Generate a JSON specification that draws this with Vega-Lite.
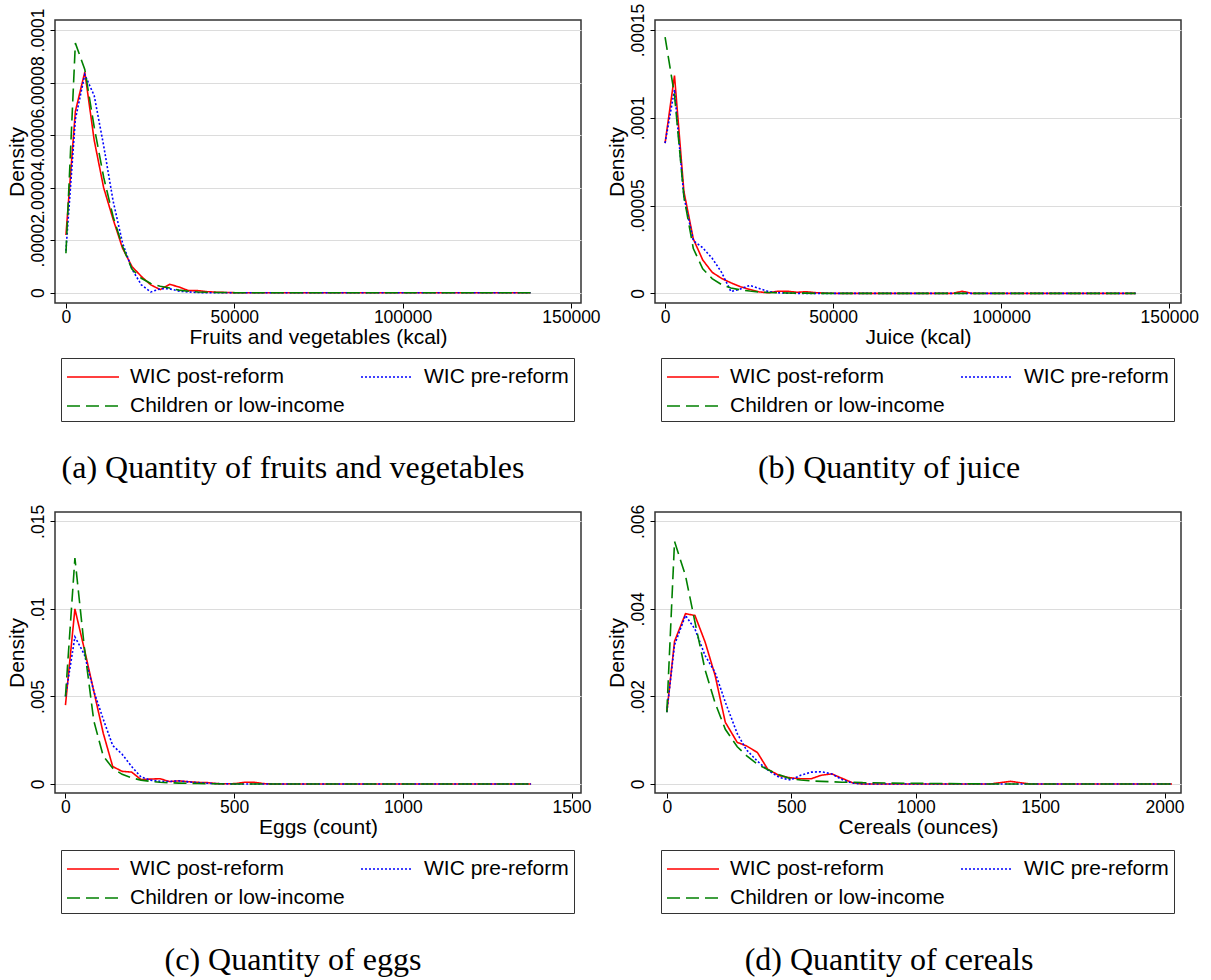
{
  "$schema": "https://vega.github.io/schema/vega-lite/v6.json",
  "background": "white",
  "padding": {"left": 5, "top": 2, "right": 0, "bottom": 0},
  "datasets": {
    "fruitveg": [
      {"x": 0, "WIC post-reform": 2.2e-5, "WIC pre-reform": 1.6e-5, "Children or low-income": 1.5e-5},
      {"x": 2800, "WIC post-reform": 6.9e-5, "WIC pre-reform": 6.6e-5, "Children or low-income": 9.5e-5},
      {"x": 5600, "WIC post-reform": 8.4e-5, "WIC pre-reform": 8.3e-5, "Children or low-income": 8.5e-5},
      {"x": 8400, "WIC post-reform": 5.8e-5, "WIC pre-reform": 7.5e-5, "Children or low-income": 6.3e-5},
      {"x": 11200, "WIC post-reform": 4.0e-5, "WIC pre-reform": 5.6e-5, "Children or low-income": 4.4e-5},
      {"x": 14000, "WIC post-reform": 2.8e-5, "WIC pre-reform": 3.5e-5, "Children or low-income": 2.9e-5},
      {"x": 16800, "WIC post-reform": 1.7e-5, "WIC pre-reform": 1.9e-5, "Children or low-income": 1.77e-5},
      {"x": 19600, "WIC post-reform": 1.0e-5, "WIC pre-reform": 9e-6, "Children or low-income": 9e-6},
      {"x": 22400, "WIC post-reform": 6.2e-6, "WIC pre-reform": 3e-6, "Children or low-income": 5.5e-6},
      {"x": 25200, "WIC post-reform": 3e-6, "WIC pre-reform": 3e-7, "Children or low-income": 3.5e-6},
      {"x": 28000, "WIC post-reform": 1.2e-6, "WIC pre-reform": 1.5e-6, "Children or low-income": 2.5e-6},
      {"x": 30800, "WIC post-reform": 3.2e-6, "WIC pre-reform": 1.5e-6, "Children or low-income": 1.8e-6},
      {"x": 33600, "WIC post-reform": 2.2e-6, "WIC pre-reform": 6e-7, "Children or low-income": 1e-6},
      {"x": 36400, "WIC post-reform": 8e-7, "WIC pre-reform": 3e-7, "Children or low-income": 6e-7},
      {"x": 39200, "WIC post-reform": 8e-7, "WIC pre-reform": 1e-7, "Children or low-income": 3e-7},
      {"x": 42000, "WIC post-reform": 4e-7, "WIC pre-reform": 0, "Children or low-income": 2e-7},
      {"x": 44800, "WIC post-reform": 2e-7, "WIC pre-reform": 0, "Children or low-income": 1e-7},
      {"x": 47600, "WIC post-reform": 1e-7, "WIC pre-reform": 0, "Children or low-income": 1e-7},
      {"x": 50400, "WIC post-reform": 0, "WIC pre-reform": 0, "Children or low-income": 0},
      {"x": 70000, "WIC post-reform": 0, "WIC pre-reform": 0, "Children or low-income": 0},
      {"x": 100000, "WIC post-reform": 0, "WIC pre-reform": 0, "Children or low-income": 0},
      {"x": 138000, "WIC post-reform": 0, "WIC pre-reform": 0, "Children or low-income": 0}
    ],
    "juice": [
      {"x": 0, "WIC post-reform": 8.56e-5, "WIC pre-reform": 8.56e-5, "Children or low-income": 1.46e-4},
      {"x": 2800, "WIC post-reform": 1.24e-4, "WIC pre-reform": 1.16e-4, "Children or low-income": 1.13e-4},
      {"x": 5600, "WIC post-reform": 5.8e-5, "WIC pre-reform": 5.5e-5, "Children or low-income": 5.5e-5},
      {"x": 8400, "WIC post-reform": 3.1e-5, "WIC pre-reform": 3.0e-5, "Children or low-income": 2.55e-5},
      {"x": 11200, "WIC post-reform": 1.9e-5, "WIC pre-reform": 2.6e-5, "Children or low-income": 1.4e-5},
      {"x": 14000, "WIC post-reform": 1.2e-5, "WIC pre-reform": 2.0e-5, "Children or low-income": 8.4e-6},
      {"x": 16800, "WIC post-reform": 8.5e-6, "WIC pre-reform": 1.2e-5, "Children or low-income": 5e-6},
      {"x": 19600, "WIC post-reform": 6e-6, "WIC pre-reform": 1e-6, "Children or low-income": 3e-6},
      {"x": 22400, "WIC post-reform": 3.8e-6, "WIC pre-reform": 2.5e-6, "Children or low-income": 2e-6},
      {"x": 25200, "WIC post-reform": 2.2e-6, "WIC pre-reform": 4.5e-6, "Children or low-income": 1.3e-6},
      {"x": 28000, "WIC post-reform": 8e-7, "WIC pre-reform": 2.8e-6, "Children or low-income": 8e-7},
      {"x": 30800, "WIC post-reform": 3e-7, "WIC pre-reform": 1e-6, "Children or low-income": 5e-7},
      {"x": 33600, "WIC post-reform": 1.2e-6, "WIC pre-reform": 3e-7, "Children or low-income": 3e-7},
      {"x": 36400, "WIC post-reform": 1.2e-6, "WIC pre-reform": 1e-7, "Children or low-income": 2e-7},
      {"x": 39200, "WIC post-reform": 6e-7, "WIC pre-reform": 0, "Children or low-income": 1e-7},
      {"x": 42000, "WIC post-reform": 9e-7, "WIC pre-reform": 0, "Children or low-income": 1e-7},
      {"x": 44800, "WIC post-reform": 4e-7, "WIC pre-reform": 0, "Children or low-income": 0},
      {"x": 47600, "WIC post-reform": 1e-7, "WIC pre-reform": 0, "Children or low-income": 0},
      {"x": 50400, "WIC post-reform": 0, "WIC pre-reform": 0, "Children or low-income": 0},
      {"x": 85600, "WIC post-reform": 0, "WIC pre-reform": 0, "Children or low-income": 0},
      {"x": 88400, "WIC post-reform": 1.2e-6, "WIC pre-reform": 0, "Children or low-income": 0},
      {"x": 91200, "WIC post-reform": 0, "WIC pre-reform": 0, "Children or low-income": 0},
      {"x": 140000, "WIC post-reform": 0, "WIC pre-reform": 0, "Children or low-income": 0}
    ],
    "eggs": [
      {"x": 0, "WIC post-reform": 0.0045, "WIC pre-reform": 0.0050, "Children or low-income": 0.0050},
      {"x": 28, "WIC post-reform": 0.0100, "WIC pre-reform": 0.0084, "Children or low-income": 0.0129},
      {"x": 56, "WIC post-reform": 0.0077, "WIC pre-reform": 0.0074, "Children or low-income": 0.0078},
      {"x": 84, "WIC post-reform": 0.0053, "WIC pre-reform": 0.0053, "Children or low-income": 0.0036},
      {"x": 112, "WIC post-reform": 0.0029, "WIC pre-reform": 0.0037, "Children or low-income": 0.0016},
      {"x": 140, "WIC post-reform": 0.0010, "WIC pre-reform": 0.0022, "Children or low-income": 0.0009},
      {"x": 168, "WIC post-reform": 0.00072, "WIC pre-reform": 0.0017, "Children or low-income": 0.00055},
      {"x": 196, "WIC post-reform": 0.00068, "WIC pre-reform": 0.0010, "Children or low-income": 0.00035},
      {"x": 224, "WIC post-reform": 0.00025, "WIC pre-reform": 0.0004, "Children or low-income": 0.00022},
      {"x": 252, "WIC post-reform": 0.00028, "WIC pre-reform": 0.00022, "Children or low-income": 0.00015},
      {"x": 280, "WIC post-reform": 0.0003, "WIC pre-reform": 0.00015, "Children or low-income": 0.0001},
      {"x": 308, "WIC post-reform": 0.00014, "WIC pre-reform": 0.00014, "Children or low-income": 0.00007},
      {"x": 336, "WIC post-reform": 0.00018, "WIC pre-reform": 0.00018, "Children or low-income": 0.00005},
      {"x": 364, "WIC post-reform": 0.00013, "WIC pre-reform": 0.00012, "Children or low-income": 0.00004},
      {"x": 392, "WIC post-reform": 0.00009, "WIC pre-reform": 0.00008, "Children or low-income": 0.00003},
      {"x": 420, "WIC post-reform": 0.00008, "WIC pre-reform": 0.00004, "Children or low-income": 0.00002},
      {"x": 448, "WIC post-reform": 0.00002, "WIC pre-reform": 0.00002, "Children or low-income": 0.00001},
      {"x": 476, "WIC post-reform": 0.00001, "WIC pre-reform": 0.00001, "Children or low-income": 0},
      {"x": 504, "WIC post-reform": 0.00002, "WIC pre-reform": 0, "Children or low-income": 0},
      {"x": 532, "WIC post-reform": 0.0001, "WIC pre-reform": 0, "Children or low-income": 0},
      {"x": 560, "WIC post-reform": 0.00009, "WIC pre-reform": 0, "Children or low-income": 0},
      {"x": 588, "WIC post-reform": 0.00002, "WIC pre-reform": 0, "Children or low-income": 0},
      {"x": 616, "WIC post-reform": 0, "WIC pre-reform": 0, "Children or low-income": 0},
      {"x": 900, "WIC post-reform": 0, "WIC pre-reform": 0, "Children or low-income": 0},
      {"x": 1380, "WIC post-reform": 0, "WIC pre-reform": 0, "Children or low-income": 0}
    ],
    "cereals": [
      {"x": 0, "WIC post-reform": 0.00164, "WIC pre-reform": 0.00164, "Children or low-income": 0.00164},
      {"x": 31, "WIC post-reform": 0.00326, "WIC pre-reform": 0.00318, "Children or low-income": 0.00554},
      {"x": 75, "WIC post-reform": 0.00389, "WIC pre-reform": 0.00385, "Children or low-income": 0.00476},
      {"x": 113, "WIC post-reform": 0.00385, "WIC pre-reform": 0.00354, "Children or low-income": 0.0037},
      {"x": 154, "WIC post-reform": 0.00324, "WIC pre-reform": 0.00293, "Children or low-income": 0.0026},
      {"x": 194, "WIC post-reform": 0.00248, "WIC pre-reform": 0.00255, "Children or low-income": 0.00185},
      {"x": 235, "WIC post-reform": 0.00141, "WIC pre-reform": 0.00187, "Children or low-income": 0.00125},
      {"x": 283, "WIC post-reform": 0.00095, "WIC pre-reform": 0.00115, "Children or low-income": 0.00085},
      {"x": 320, "WIC post-reform": 0.00087, "WIC pre-reform": 0.00078, "Children or low-income": 0.00065},
      {"x": 364, "WIC post-reform": 0.00072, "WIC pre-reform": 0.00052, "Children or low-income": 0.00045},
      {"x": 405, "WIC post-reform": 0.00034, "WIC pre-reform": 0.00032, "Children or low-income": 0.00033},
      {"x": 452, "WIC post-reform": 0.00019, "WIC pre-reform": 0.00015, "Children or low-income": 0.00021},
      {"x": 497, "WIC post-reform": 0.00014, "WIC pre-reform": 0.00009, "Children or low-income": 0.00012},
      {"x": 538, "WIC post-reform": 0.00012, "WIC pre-reform": 0.0002, "Children or low-income": 0.00009},
      {"x": 580, "WIC post-reform": 0.00012, "WIC pre-reform": 0.00027, "Children or low-income": 0.00007},
      {"x": 621, "WIC post-reform": 0.0002, "WIC pre-reform": 0.00028, "Children or low-income": 0.00006},
      {"x": 663, "WIC post-reform": 0.00023, "WIC pre-reform": 0.00023, "Children or low-income": 0.00005},
      {"x": 704, "WIC post-reform": 0.00013, "WIC pre-reform": 0.0001, "Children or low-income": 0.00004},
      {"x": 745, "WIC post-reform": 0.00003, "WIC pre-reform": 0.00002, "Children or low-income": 0.00004},
      {"x": 787, "WIC post-reform": 0, "WIC pre-reform": 0, "Children or low-income": 0.00003},
      {"x": 900, "WIC post-reform": 0, "WIC pre-reform": 0, "Children or low-income": 0.00002},
      {"x": 1100, "WIC post-reform": 0, "WIC pre-reform": 0, "Children or low-income": 0.00001},
      {"x": 1300, "WIC post-reform": 0, "WIC pre-reform": 0, "Children or low-income": 0},
      {"x": 1340, "WIC post-reform": 0.00003, "WIC pre-reform": 0, "Children or low-income": 0},
      {"x": 1380, "WIC post-reform": 0.00006, "WIC pre-reform": 0, "Children or low-income": 0},
      {"x": 1420, "WIC post-reform": 0.00003, "WIC pre-reform": 0, "Children or low-income": 0},
      {"x": 1460, "WIC post-reform": 0, "WIC pre-reform": 0, "Children or low-income": 0},
      {"x": 1800, "WIC post-reform": 0, "WIC pre-reform": 0, "Children or low-income": 0},
      {"x": 2030, "WIC post-reform": 0, "WIC pre-reform": 0, "Children or low-income": 0}
    ]
  },
  "columns": 2,
  "spacing": {"row": 18, "column": 4},
  "concat": [
    {
      "width": 526,
      "height": 283,
      "title": {"text": "(a) Quantity of fruits and vegetables", "dx": -25},
      "data": {"name": "fruitveg"},
      "transform": [{"fold": ["WIC post-reform", "WIC pre-reform", "Children or low-income"], "as": ["group", "density"]}],
      "mark": {"type": "line", "strokeWidth": 1.6},
      "encoding": {
        "x": {"field": "x", "type": "quantitative", "scale": {"domain": [-3250, 153000], "nice": false, "zero": false},
              "axis": {"title": "Fruits and vegetables (kcal)", "values": [0, 50000, 100000, 150000], "format": "d"}},
        "y": {"field": "density", "type": "quantitative", "scale": {"domain": [-0.0000039, 0.0001038], "nice": false, "zero": false},
              "axis": {"title": "Density", "values": [0, 0.00002, 0.00004, 0.00006, 0.00008, 0.0001]}},
        "color": {"field": "group", "type": "nominal", "legend": {"title": null},
                  "scale": {"domain": ["WIC post-reform", "WIC pre-reform", "Children or low-income"], "range": ["#ff0000", "#0000ff", "#008000"]}},
        "strokeDash": {"field": "group", "type": "nominal", "legend": {"title": null},
                       "scale": {"domain": ["WIC post-reform", "WIC pre-reform", "Children or low-income"], "range": [[1, 0], [2, 2], [13, 6]]}}
      }
    },
    {
      "width": 526,
      "height": 283,
      "title": {"text": "(b) Quantity of juice", "dx": -29},
      "data": {"name": "juice"},
      "transform": [{"fold": ["WIC post-reform", "WIC pre-reform", "Children or low-income"], "as": ["group", "density"]}],
      "mark": {"type": "line", "strokeWidth": 1.6},
      "encoding": {
        "x": {"field": "x", "type": "quantitative", "scale": {"domain": [-3000, 153500], "nice": false, "zero": false},
              "axis": {"title": "Juice (kcal)", "values": [0, 50000, 100000, 150000], "format": "d"}},
        "y": {"field": "density", "type": "quantitative", "scale": {"domain": [-0.0000055, 0.0001557], "nice": false, "zero": false},
              "axis": {"title": "Density", "values": [0, 0.00005, 0.0001, 0.00015]}},
        "color": {"field": "group", "type": "nominal", "legend": {"title": null},
                  "scale": {"domain": ["WIC post-reform", "WIC pre-reform", "Children or low-income"], "range": ["#ff0000", "#0000ff", "#008000"]}},
        "strokeDash": {"field": "group", "type": "nominal", "legend": {"title": null},
                       "scale": {"domain": ["WIC post-reform", "WIC pre-reform", "Children or low-income"], "range": [[1, 0], [2, 2], [13, 6]]}}
      }
    },
    {
      "width": 526,
      "height": 281,
      "title": {"text": "(c) Quantity of eggs", "dx": -25},
      "data": {"name": "eggs"},
      "transform": [{"fold": ["WIC post-reform", "WIC pre-reform", "Children or low-income"], "as": ["group", "density"]}],
      "mark": {"type": "line", "strokeWidth": 1.6},
      "encoding": {
        "x": {"field": "x", "type": "quantitative", "scale": {"domain": [-31, 1528], "nice": false, "zero": false},
              "axis": {"title": "Eggs (count)", "values": [0, 500, 1000, 1500], "format": "d"}},
        "y": {"field": "density", "type": "quantitative", "scale": {"domain": [-0.000515, 0.015534], "nice": false, "zero": false},
              "axis": {"title": "Density", "values": [0, 0.005, 0.01, 0.015]}},
        "color": {"field": "group", "type": "nominal", "legend": {"title": null},
                  "scale": {"domain": ["WIC post-reform", "WIC pre-reform", "Children or low-income"], "range": ["#ff0000", "#0000ff", "#008000"]}},
        "strokeDash": {"field": "group", "type": "nominal", "legend": {"title": null},
                       "scale": {"domain": ["WIC post-reform", "WIC pre-reform", "Children or low-income"], "range": [[1, 0], [2, 2], [13, 6]]}}
      }
    },
    {
      "width": 526,
      "height": 281,
      "title": {"text": "(d) Quantity of cereals", "dx": -29},
      "data": {"name": "cereals"},
      "transform": [{"fold": ["WIC post-reform", "WIC pre-reform", "Children or low-income"], "as": ["group", "density"]}],
      "mark": {"type": "line", "strokeWidth": 1.6},
      "encoding": {
        "x": {"field": "x", "type": "quantitative", "scale": {"domain": [-47.5, 2066], "nice": false, "zero": false},
              "axis": {"title": "Cereals (ounces)", "values": [0, 500, 1000, 1500, 2000], "format": "d"}},
        "y": {"field": "density", "type": "quantitative", "scale": {"domain": [-0.000206, 0.0062135], "nice": false, "zero": false},
              "axis": {"title": "Density", "values": [0, 0.002, 0.004, 0.006]}},
        "color": {"field": "group", "type": "nominal", "legend": {"title": null},
                  "scale": {"domain": ["WIC post-reform", "WIC pre-reform", "Children or low-income"], "range": ["#ff0000", "#0000ff", "#008000"]}},
        "strokeDash": {"field": "group", "type": "nominal", "legend": {"title": null},
                       "scale": {"domain": ["WIC post-reform", "WIC pre-reform", "Children or low-income"], "range": [[1, 0], [2, 2], [13, 6]]}}
      }
    }
  ],
  "resolve": {"scale": {"color": "independent", "strokeDash": "independent", "x": "independent", "y": "independent"}},
  "config": {
    "font": "Liberation Sans",
    "view": {"stroke": "#333333", "strokeWidth": 1.5},
    "axis": {
      "labelFont": "Liberation Sans", "labelFontSize": 17.5, "labelColor": "#000000",
      "titleFont": "Liberation Sans", "titleFontSize": 21, "titleFontWeight": "normal", "titleColor": "#000000",
      "tickColor": "#000000", "tickSize": 5, "tickWidth": 1, "domain": false,
      "gridColor": "#dcdcdc", "gridWidth": 1.2
    },
    "axisX": {"grid": false, "labelPadding": 0, "titlePadding": 1},
    "axisY": {
      "grid": true, "labelAngle": 270, "labelAlign": "center", "labelBaseline": "bottom",
      "labelOverlap": false, "labelBound": false, "labelPadding": 3, "titlePadding": 2,
      "labelExpr": "datum.value == 0 ? '0' : replace(format(datum.value, '.5~f'), '0.', '.')"
    },
    "legend": {
      "orient": "none", "legendX": 6, "legendY": 338, "direction": "horizontal", "columns": 2,
      "symbolType": "M-2,0H2", "symbolSize": 676, "symbolStrokeWidth": 1.5, "symbolOffset": 13,
      "labelFont": "Liberation Sans", "labelFontSize": 21, "labelColor": "#000000", "labelLimit": 400,
      "labelOffset": 23, "columnPadding": 13, "rowPadding": 5, "padding": 5,
      "strokeColor": "#333333", "fillColor": "#ffffff"
    },
    "title": {
      "orient": "bottom", "anchor": "middle", "font": "Liberation Serif", "fontSize": 32,
      "fontWeight": "normal", "color": "#000000", "offset": 31
    }
  }
}
